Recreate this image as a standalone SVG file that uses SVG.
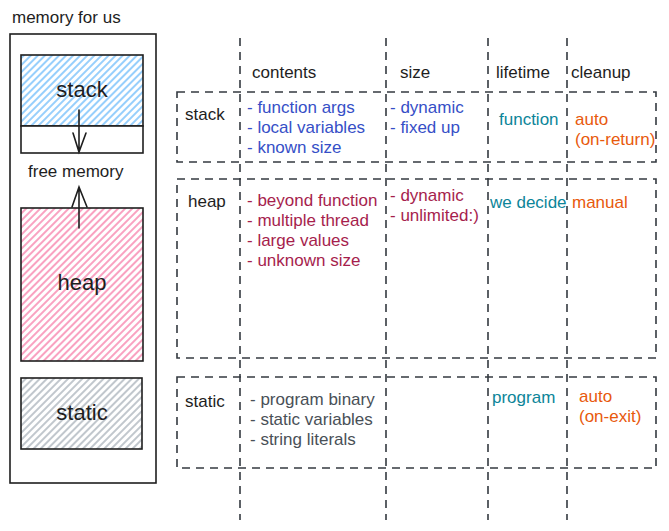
<svg xmlns="http://www.w3.org/2000/svg" width="669" height="531" viewBox="0 0 669 531">
<style>
text{font-family:"Liberation Sans","DejaVu Sans",sans-serif;font-size:17px;fill:#1e1e1e}
.big{font-size:22px;text-anchor:middle}
.blue{fill:#364fc7}
.pink{fill:#a61e4d}
.teal{fill:#0c8599}
.orange{fill:#e8590c}
.grey{fill:#495057}
.box{stroke:#1e1e1e;stroke-width:1.6}
.dash{fill:none;stroke:#343a40;stroke-width:1.6;stroke-dasharray:8 6}
.arr{fill:none;stroke:#1e1e1e;stroke-width:1.6;stroke-linecap:round}
</style>
<defs>
<pattern id="hb" width="5" height="5" patternUnits="userSpaceOnUse" patternTransform="rotate(45)"><rect width="5" height="5" fill="#fff"/><line x1="1" y1="0" x2="1" y2="5" stroke="#74c0fc" stroke-width="1.5"/></pattern>
<pattern id="hp" width="5" height="5" patternUnits="userSpaceOnUse" patternTransform="rotate(45)"><rect width="5" height="5" fill="#fff"/><line x1="1" y1="0" x2="1" y2="5" stroke="#f783ac" stroke-width="1.5"/></pattern>
<pattern id="hg" width="5" height="5" patternUnits="userSpaceOnUse" patternTransform="rotate(45)"><rect width="5" height="5" fill="#fff"/><line x1="1" y1="0" x2="1" y2="5" stroke="#adb5bd" stroke-width="1.5"/></pattern>
</defs>
<rect width="669" height="531" fill="#fff"/>

<g id="memory">
<text x="12" y="23">memory for us</text>
<rect class="box" x="10" y="34" width="146" height="449" fill="none"/>
</g>
<g id="stack-block">
<rect class="box" x="21" y="55" width="122" height="71" fill="url(#hb)"/>
<rect class="box" x="21" y="126" width="122" height="27" fill="#fff"/>
<text class="big" x="82" y="97">stack</text>
</g>
<g id="free-memory"><text x="28" y="177">free memory</text></g>
<g id="heap-block">
<rect class="box" x="21" y="208" width="122" height="153" fill="url(#hp)"/>
<text class="big" x="82" y="290">heap</text>
</g>
<g id="static-block">
<rect class="box" x="21" y="378" width="121" height="71" fill="url(#hg)"/>
<text class="big" x="82" y="420">static</text>
</g>
<g id="connectors">
<path class="arr" d="M79 110V152M73 133L79 152L86 133"/>
<path class="arr" d="M79 228V187M72 207L79 187L87 207"/>
</g>

<g id="grid">
<path class="dash" d="M240 38V520M386 38V520M488 38V520M567 38V520"/>
</g>
<g id="headers">
<text x="252" y="78">contents</text>
<text x="400" y="78">size</text>
<text x="496" y="78">lifetime</text>
<text x="571" y="78">cleanup</text>
</g>
<g id="row-stack">
<rect class="dash" x="177" y="92" width="479" height="70"/>
<text x="185" y="120">stack</text>
<text class="blue" x="247" y="113">- function args</text>
<text class="blue" x="247" y="133">- local variables</text>
<text class="blue" x="247" y="153">- known size</text>
<text class="blue" x="390" y="113">- dynamic</text>
<text class="blue" x="390" y="133">- fixed up</text>
<text class="teal" x="499" y="125">function</text>
<text class="orange" x="575" y="125">auto</text>
<text class="orange" x="575" y="145">(on-return)</text>
</g>
<g id="row-heap">
<rect class="dash" x="177" y="179" width="479" height="179"/>
<text x="188" y="207">heap</text>
<text class="pink" x="247" y="206">- beyond function</text>
<text class="pink" x="247" y="226">- multiple thread</text>
<text class="pink" x="247" y="246">- large values</text>
<text class="pink" x="247" y="266">- unknown size</text>
<text class="pink" x="390" y="201">- dynamic</text>
<text class="pink" x="390" y="221">- unlimited:)</text>
<text class="teal" x="490" y="208">we decide</text>
<text class="orange" x="572" y="208">manual</text>
</g>
<g id="row-static">
<rect class="dash" x="177" y="377" width="479" height="91"/>
<text x="185" y="407">static</text>
<text class="grey" x="250" y="405">- program binary</text>
<text class="grey" x="250" y="425">- static variables</text>
<text class="grey" x="250" y="445">- string literals</text>
<text class="teal" x="492" y="403">program</text>
<text class="orange" x="579" y="402">auto</text>
<text class="orange" x="579" y="422">(on-exit)</text>
</g>
</svg>
